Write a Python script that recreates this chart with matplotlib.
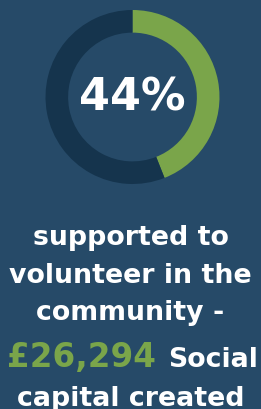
import matplotlib
matplotlib.use("Agg")
import matplotlib.pyplot as plt

# data
labels = ["Supported to volunteer", "Other"]
values = [44, 56]
center_label = "44%"
text_lines = ["supported to", "volunteer in the", "community -"]
money = "£26,294"
line4_rest = "Social"
last_line = "capital created"

BG = "#264a68"
DARK = "#15344d"
GREEN = "#7aa54a"
W, H = 261, 410

fig = plt.figure(figsize=(W / 100, H / 100), dpi=100, facecolor=BG)

cx, cy, r = 132.5, 98, 87
ax = fig.add_axes([(cx - r) / W, (H - cy - r) / H, 2 * r / W, 2 * r / H])
ax.set_facecolor(BG)
ax.pie(values, colors=[GREEN, DARK], startangle=90, counterclock=False,
       radius=1, wedgeprops=dict(width=0.26, edgecolor="none"))
ax.set_xlim(-1, 1)
ax.set_ylim(-1, 1)
ax.set_aspect("auto")
ax.axis("off")
ax.text(0, 0.0, center_label, ha="center", va="center", color="white",
        fontsize=32, fontweight="bold", family="DejaVu Sans")

fs = 19.3
baselines = [245, 283, 320]
for t, b in zip(text_lines, baselines):
    fig.text(0.5, 1 - b / H, t, ha="center", va="baseline", color="white",
             fontsize=fs, fontweight="bold")
fig.text(7 / W, 1 - 367 / H, money, ha="left", va="baseline", color=GREEN,
         fontsize=23.5, fontweight="bold")
fig.text(258 / W, 1 - 367 / H, line4_rest, ha="right", va="baseline", color="white",
         fontsize=fs, fontweight="bold")
fig.text(0.5, 1 - 406 / H, last_line, ha="center", va="baseline", color="white",
         fontsize=fs, fontweight="bold")

fig.savefig("out.png", dpi=100, facecolor=BG)
